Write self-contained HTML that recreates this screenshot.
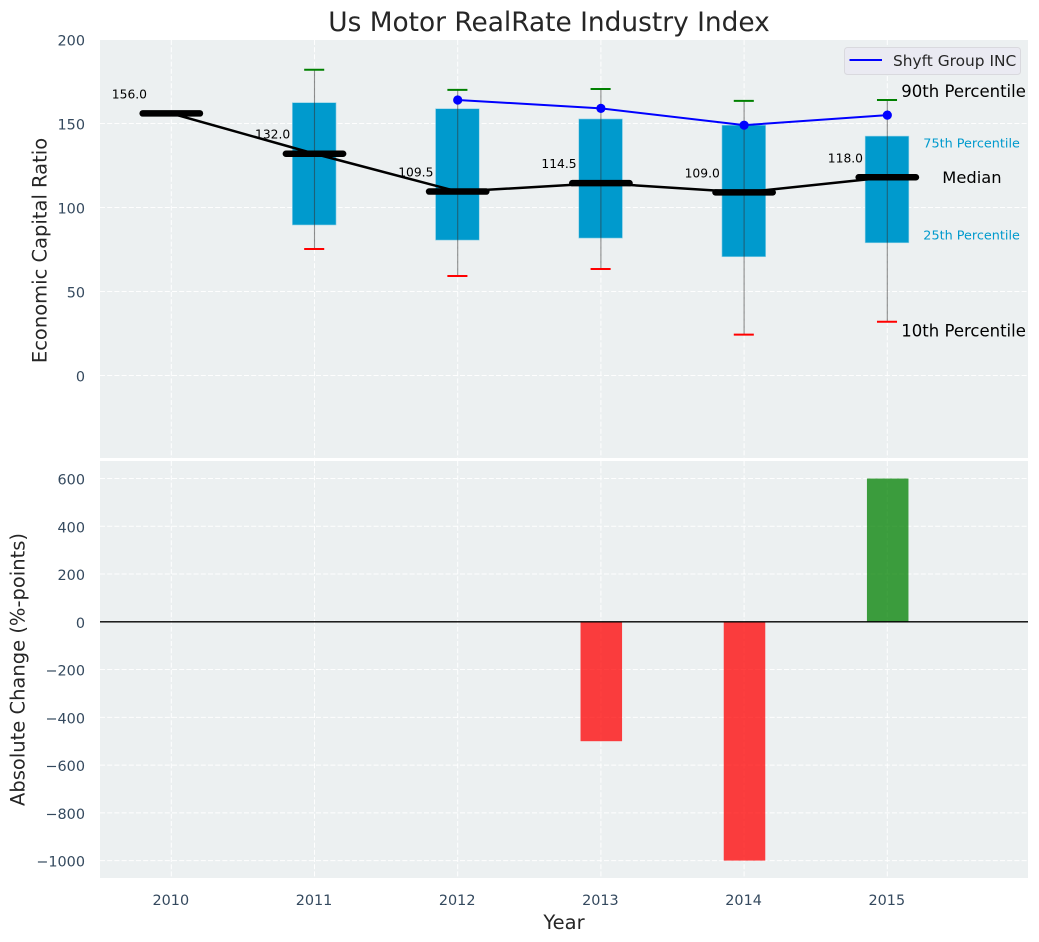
<!DOCTYPE html>
<html lang="en">
<head>
<meta charset="utf-8">
<title>Us Motor RealRate Industry Index</title>
<style>
html,body{margin:0;padding:0;background:#fff;}
svg{display:block;font-family:"DejaVu Sans","Liberation Sans",sans-serif;}
</style>
</head>
<body>
<svg id="chart" xmlns="http://www.w3.org/2000/svg" width="1039" height="942" viewBox="0 0 1039 942">
  <defs>
    <clipPath id="top-clip"><rect x="100" y="40" width="928" height="418"/></clipPath>
    <clipPath id="bottom-clip"><rect x="100" y="461" width="928" height="417"/></clipPath>
  </defs>
  <rect width="1039" height="942" fill="#ffffff"/>
  <text x="549" y="31" font-size="26.4" fill="#262626" text-anchor="middle">Us Motor RealRate Industry Index</text>

  <rect x="100" y="40" width="928" height="418" fill="#ecf0f1"/>
  <rect x="100" y="461" width="928" height="417" fill="#ecf0f1"/>

  <g id="top-grid" clip-path="url(#top-clip)"></g>
  <g id="bottom-grid" clip-path="url(#bottom-clip)"></g>
  <g id="top-marks" clip-path="url(#top-clip)"></g>
  <g id="bottom-marks" clip-path="url(#bottom-clip)"></g>
  <g id="tick-labels"></g>
  <g id="annotations"></g>

  <text transform="translate(46.5,250.5) rotate(-90)" font-size="19.5" fill="#262626" text-anchor="middle">Economic Capital Ratio</text>
  <text transform="translate(24.5,669.5) rotate(-90)" font-size="19.5" fill="#262626" text-anchor="middle">Absolute Change (%-points)</text>
  <text x="564" y="929" font-size="19.5" fill="#262626" text-anchor="middle">Year</text>

  <g>
    <rect x="844.5" y="47.5" width="176" height="27" rx="3" fill="#eaeaf2" stroke="#d9d9de" stroke-width="1"/>
    <line x1="849.5" x2="882" y1="60" y2="60" stroke="#0000ff" stroke-width="2"/>
    <text x="893" y="66" font-size="15.4" fill="#262626">Shyft Group INC</text>
  </g>
</svg>
<script>
const years = [2010, 2011, 2012, 2013, 2014, 2015];
const p90 = [null, 182, 170, 170.5, 163.5, 164];
const p75 = [null, 162.4, 158.8, 152.7, 149, 142.5];
const medians = [156.0, 132.0, 109.5, 114.5, 109.0, 118.0];
const p25 = [null, 89.6, 80.6, 81.8, 70.7, 79];
const p10 = [null, 75.3, 59.2, 63.4, 24.3, 32];
const company = [null, null, 164, 159, 149, 155];
const changes = [null, null, null, -500, -1000, 600];
const topTicks = [0, 50, 100, 150, 200];
const bottomTicks = [-1000, -800, -600, -400, -200, 0, 200, 400, 600];

const NS = 'http://www.w3.org/2000/svg';
const xScale = function (year) { return 171.3 + (year - 2010) * 143.2; };
const yTop = function (v) { return 375.5 - v * 1.68; };
const yBottom = function (v) { return 621.8 - v * 0.2388; };
const yearWidth = xScale(1) - xScale(0);

function mk(tag, attrs, parent, text) {
  const el = document.createElementNS(NS, tag);
  for (const key in attrs) el.setAttribute(key, attrs[key]);
  if (text !== undefined) el.textContent = text;
  parent.appendChild(el);
  return el;
}

const topGrid = document.getElementById('top-grid');
const bottomGrid = document.getElementById('bottom-grid');
const topMarks = document.getElementById('top-marks');
const bottomMarks = document.getElementById('bottom-marks');
const tickLabels = document.getElementById('tick-labels');
const annotations = document.getElementById('annotations');
const gridStyle = { stroke: '#ffffff', 'stroke-width': 1, 'stroke-dasharray': '5 2.2', opacity: 0.95 };

topTicks.forEach(function (v) {
  const y = yTop(v);
  const g = mk('line', Object.assign({ x1: 100, x2: 1028, y1: y, y2: y }, gridStyle), topGrid);
  
  
  const t = mk('text', { x: 85, y: y + 6, 'font-size': 14.4, fill: '#34495e', 'text-anchor': 'end' }, tickLabels, String(v));
  
  
});

bottomTicks.forEach(function (v) {
  const y = yBottom(v);
  const g = mk('line', Object.assign({ x1: 100, x2: 1028, y1: y, y2: y }, gridStyle), bottomGrid);
  
  
  const t = mk('text', { x: 85, y: y + 6, 'font-size': 14.4, fill: '#34495e', 'text-anchor': 'end' }, tickLabels, String(v).replace('-', '\u2212'));
  
  
});

years.forEach(function (year) {
  const x = xScale(year);
  const g1 = mk('line', Object.assign({ x1: x, x2: x, y1: 40, y2: 458 }, gridStyle), topGrid);
  
  
  const g2 = mk('line', Object.assign({ x1: x, x2: x, y1: 461, y2: 878 }, gridStyle), bottomGrid);
  
  
  const t = mk('text', { x: x - 0.5, y: 905, 'font-size': 14.4, fill: '#34495e', 'text-anchor': 'middle' }, tickLabels, String(year));
  
  
});

/* Interquartile boxes */
years.forEach(function (year, i) {
  if (p75[i] === null || p25[i] === null) return;
  const w = 0.305 * yearWidth;
  const box = mk('rect', {
    x: xScale(year) - w / 2 - 0.3, y: yTop(p75[i]), width: w, height: yTop(p25[i]) - yTop(p75[i]),
    fill: '#009ACD', stroke: '#8fd0e6', 'stroke-width': 0.6
  }, topMarks);
  
  
});

/* Whiskers and caps */
years.forEach(function (year, i) {
  if (p90[i] === null || p10[i] === null) return;
  const x = xScale(year);
  const capHalf = 0.07 * yearWidth;
  const whisker = mk('line', { x1: x, x2: x, y1: yTop(p90[i]), y2: yTop(p10[i]), stroke: '#333333', 'stroke-opacity': 0.55, 'stroke-width': 1.1 }, topMarks);
  
  
  const high = mk('line', { x1: x - capHalf - 0.3, x2: x + capHalf - 0.3, y1: yTop(p90[i]), y2: yTop(p90[i]), stroke: '#008000', 'stroke-width': 2 }, topMarks);
  
  
  const low = mk('line', { x1: x - capHalf - 0.3, x2: x + capHalf - 0.3, y1: yTop(p10[i]), y2: yTop(p10[i]), stroke: '#ff0000', 'stroke-width': 2 }, topMarks);
  
  
});

/* Median labels, connecting line and median bars */
years.forEach(function (year, i) {
  const t = mk('text', { x: xScale(year) - 59.5, y: yTop(medians[i]) - 15, 'font-size': 12.3, fill: '#000000' }, topMarks, medians[i].toFixed(1));
  
  
});

const medianPoints = years.map(function (year, i) { return xScale(year) + ',' + yTop(medians[i]); }).join(' ');
const medianLine = mk('polyline', { points: medianPoints, fill: 'none', stroke: '#000000', 'stroke-width': 2.5 }, topMarks);



years.forEach(function (year, i) {
  const x = xScale(year);
  const y = yTop(medians[i]);
  const half = 0.2 * yearWidth;
  const bar = mk('line', { x1: x - half, x2: x + half, y1: y, y2: y, stroke: '#000000', 'stroke-width': 6.5, 'stroke-linecap': 'round' }, topMarks);
  
  
});

/* Company series */
const companyPoints = [];
years.forEach(function (year, i) {
  if (company[i] !== null) companyPoints.push(xScale(year) + ',' + yTop(company[i]));
});
const companyLine = mk('polyline', { points: companyPoints.join(' '), fill: 'none', stroke: '#0000ff', 'stroke-width': 2 }, topMarks);



years.forEach(function (year, i) {
  if (company[i] === null) return;
  const dot = mk('circle', { cx: xScale(year), cy: yTop(company[i]), r: 4.6, fill: '#0000ff' }, topMarks);
  
  
});

/* Change bars */
years.forEach(function (year, i) {
  if (changes[i] === null) return;
  const w = 0.29 * yearWidth;
  const y0 = yBottom(0);
  const y1 = yBottom(changes[i]);
  const bar = mk('rect', {
    x: xScale(year) - w / 2 + 0.4, y: Math.min(y0, y1), width: w, height: Math.abs(y1 - y0),
    fill: changes[i] < 0 ? '#ff0000' : '#008000', 'fill-opacity': 0.75
  }, bottomMarks);
  
  
});

const zeroLine = mk('line', { x1: 100, x2: 1028, y1: yBottom(0), y2: yBottom(0), stroke: '#000000', 'stroke-width': 1.3 }, bottomMarks);



/* Percentile annotations anchored to the last year */
const last = years.length - 1;
const lastX = xScale(years[last]);
const a90 = mk('text', { x: lastX + 14, y: yTop(p90[last]) - 3, 'font-size': 16.5, fill: '#000000' }, annotations, '90th Percentile');


const a75 = mk('text', { x: lastX + 36, y: yTop(p75[last]) + 11.5, 'font-size': 12.8, fill: '#009ACD' }, annotations, '75th Percentile');


const a50 = mk('text', { x: lastX + 55, y: yTop(medians[last]) + 5.5, 'font-size': 16.3, fill: '#000000' }, annotations, 'Median');


const a25 = mk('text', { x: lastX + 36, y: yTop(p25[last]) - 3.5, 'font-size': 12.8, fill: '#009ACD' }, annotations, '25th Percentile');


const a10 = mk('text', { x: lastX + 14, y: yTop(p10[last]) + 15, 'font-size': 16.5, fill: '#000000' }, annotations, '10th Percentile');


</script>
</body>
</html>
